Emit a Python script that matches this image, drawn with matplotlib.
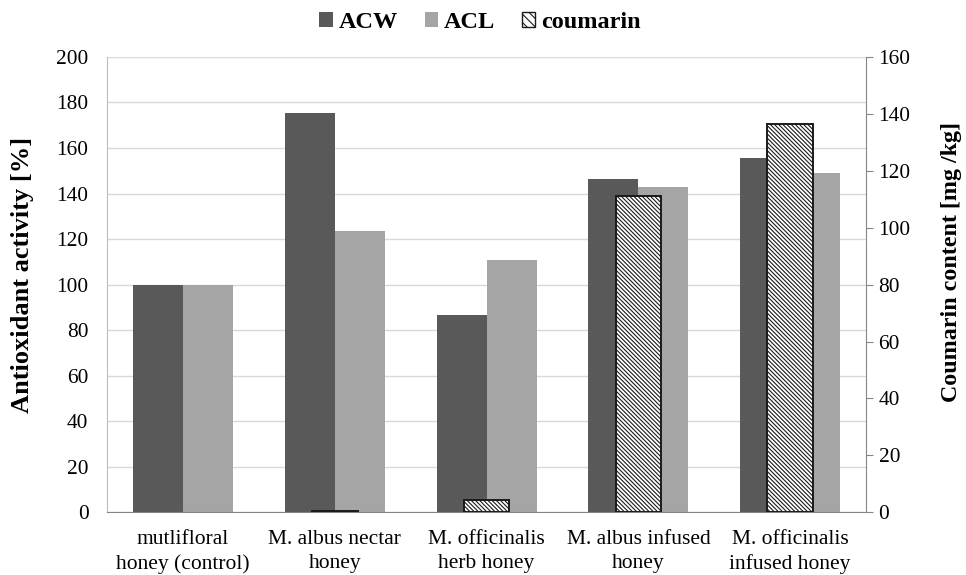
import matplotlib
matplotlib.use("Agg")
import matplotlib.pyplot as plt
import numpy as np
from matplotlib.patches import Patch

plt.rcParams['font.family'] = ['Liberation Serif', 'DejaVu Serif']
plt.rcParams['hatch.linewidth'] = 0.8
plt.rcParams['hatch.color'] = '#333333'

categories = ["mutlifloral\nhoney (control)", "M. albus nectar\nhoney",
              "M. officinalis\nherb honey", "M. albus infused\nhoney",
              "M. officinalis\ninfused honey"]
acw = [100, 175.2, 86.5, 146.3, 155.8]
acl = [100, 123.7, 110.9, 142.7, 149.2]
coumarin = [0, 0.5, 4.4, 111.3, 136.6]
left_ticks = [0, 20, 40, 60, 80, 100, 120, 140, 160, 180, 200]
right_ticks = [0, 20, 40, 60, 80, 100, 120, 140, 160]

HATCH = '\\' * 8

fig = plt.figure(figsize=(9.66, 5.75), dpi=100)
ax = fig.add_axes([0.111, 0.109, 0.7855, 0.792])
x = np.arange(len(categories))
w = 0.33
ax.bar(x - w/2, acw, w, color='#595959', zorder=2, label='ACW')
ax.bar(x + w/2, acl, w, color='#A5A5A5', zorder=2, label='ACL')
ax.set_xlim(-0.5, len(categories) - 0.5)
ax.set_ylim(0, 200)
ax.set_yticks(left_ticks)
ax.yaxis.grid(True, color='#D9D9D9', lw=1.0, zorder=0)
ax.set_axisbelow(True)
ax.tick_params(axis='y', length=0, labelsize=15.4, pad=13.5)
ax.tick_params(axis='x', length=0, labelsize=15.5, pad=13)
ax.set_xticks(x)
ax.set_xticklabels(categories, linespacing=1.3)
for s in ['top', 'right']:
    ax.spines[s].set_visible(False)
ax.spines['left'].set_color('#A9C0DC')
ax.spines['bottom'].set_color('#868686')

ax2 = ax.twinx()
coumarin_plot = [v if v > 0 else np.nan for v in coumarin]
ax2.bar(x, coumarin_plot, 0.30, facecolor='white', edgecolor='#1a1a1a', hatch=HATCH,
        linewidth=1.4, zorder=3)
ax2.set_ylim(0, 160)
ax2.set_yticks(right_ticks)
ax2.tick_params(axis='y', length=5, color='#868686', labelsize=15.4, pad=4, direction='out')
for s in ['top', 'left', 'bottom']:
    ax2.spines[s].set_visible(False)
ax2.spines['right'].set_color('#868686')

fig.text(0.0233, 0.521, 'Antioxidant activity [%]', rotation=90, ha='center', va='center',
         fontsize=19, fontweight='bold')
fig.text(0.9845, 0.5443, 'Coumarin content [mg /kg]', rotation=90, ha='center', va='center',
         fontsize=17.3, fontweight='bold')

handles = [Patch(facecolor='#595959', label='ACW'),
           Patch(facecolor='#A5A5A5', label='ACL'),
           Patch(facecolor='white', edgecolor='#1a1a1a', hatch='\\' * 4, label='coumarin')]
leg = fig.legend(handles=handles, loc='center', bbox_to_anchor=(0.497, 0.961), ncol=3,
                 frameon=False, handlelength=0.55, handleheight=0.55, handletextpad=0.25,
                 columnspacing=1.1, prop={'weight': 'bold', 'size': 17.5})

fig.savefig('out.png', dpi=100)
